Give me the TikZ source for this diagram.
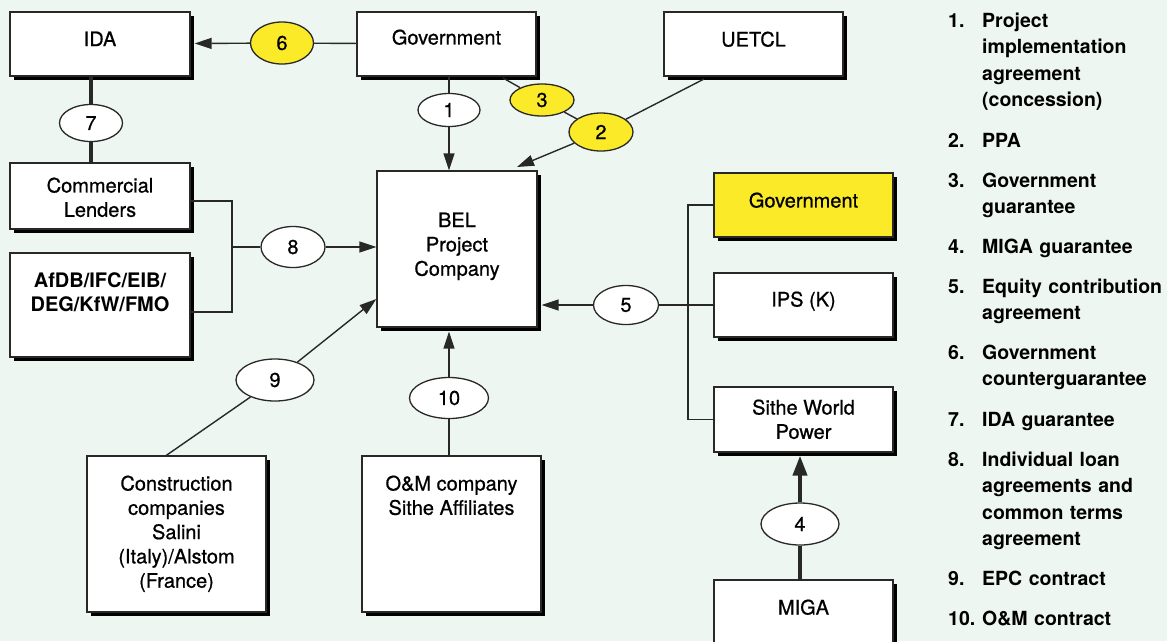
\documentclass[tikz,border=0pt]{standalone}
\usepackage{fontspec}
\setmainfont{TeX Gyre Heros}
\newfontfamily\medfont{TeX Gyre Heros}[BoldFont={TeX Gyre Heros}, BoldFeatures={FakeBold=0.7}]
\usetikzlibrary{shapes.geometric, shadows, arrows.meta, calc}
\definecolor{bgmint}{RGB}{238,246,241}
\definecolor{boxyellow}{RGB}{250,234,40}
\definecolor{edgegray}{RGB}{40,40,40}

\begin{document}
\begin{tikzpicture}[x=1pt, y=-1pt,
    box/.style={draw=edgegray, line width=1.3pt, fill=white, inner sep=0pt,
      drop shadow={shadow xshift=4pt, shadow yshift=-4pt, fill=black, opacity=1}},
    boxtext/.style={anchor=north, inner sep=0pt, yshift=-#1, align=center,
      font=\medfont\bfseries\fontsize{20}{24.3}\selectfont},
    boxtext/.default=19pt,
    oval/.style={ellipse, draw=edgegray, line width=1.3pt, fill=white, inner sep=0pt,
      font=\medfont\bfseries\fontsize{20}{24}\selectfont},
    link/.style={draw=edgegray, line width=1.4pt},
    thicklink/.style={draw=edgegray, line width=4pt},
    arr/.style={-{Triangle[length=17pt, width=11pt]}},
    thickarr/.style={-{Triangle[length=20pt, width=14pt]}},
    legnum/.style={anchor=base west, inner sep=0pt, font=\bfseries\fontsize{19.5}{26.5}\selectfont},
    legtext/.style={anchor=base west, inner sep=0pt, text width=185pt, align=left,
      font=\bfseries\fontsize{19.5}{26.5}\selectfont}]
  \useasboundingbox (0,0) rectangle (1167,641);
  \fill[bgmint] (0,0) rectangle (1167,641);
  \clip (0,0) rectangle (1167,641);

  % boxes
  \node[box, minimum width=180, minimum height=64, label={[boxtext=20pt]north:IDA}] (ida) at (100,44) {};
  \node[box, minimum width=179, minimum height=64, label={[boxtext=18pt]north:Government}] (gov) at (446.5,44) {};
  \node[box, minimum width=179, minimum height=64, label={[boxtext=20pt]north:UETCL}] (uetcl) at (753.5,44) {};
  \node[box, minimum width=180, minimum height=66, label={[boxtext=15pt]north:Commercial\\Lenders}] (cl) at (100,196) {};
  \node[box, minimum width=180, minimum height=104,
    label={[boxtext=20pt, font=\bfseries\fontsize{20}{24.3}\selectfont]north:AfDB/IFC/EIB/\\DEG/KfW/FMO}] (afdb) at (100,305) {};
  \node[box, minimum width=160, minimum height=156, label={[boxtext=42pt]north:BEL\\Project\\Company}] (bel) at (457,249) {};
  \node[box, fill=boxyellow, minimum width=179, minimum height=64, label={[boxtext=20pt]north:Government}] (govy) at (803.5,205) {};
  \node[box, minimum width=179, minimum height=64, label={[boxtext=19pt]north:IPS (K)}] (ips) at (803.5,305) {};
  \node[box, minimum width=179, minimum height=65, label={[boxtext=13pt]north:Sithe World\\Power}] (sithe) at (803.5,419.5) {};
  \node[box, minimum width=179, minimum height=100, label={[boxtext=20pt]north:MIGA}] (miga) at (803.5,630) {};
  \node[box, minimum width=179, minimum height=156,
    label={[boxtext=20pt]north:Construction\\companies\\Salini\\(Italy)/Alstom\\(France)}] (cons) at (176.5,534) {};
  \node[box, minimum width=179, minimum height=156, label={[boxtext=20pt]north:O\&M company\\Sithe Affiliates}] (om) at (451.5,534) {};

  % numbered agreements
  \node[oval, minimum width=62, minimum height=33] (e1) at (449,110) {1};
  \node[oval, fill=boxyellow, minimum width=64, minimum height=38] (e2) at (601,132) {2};
  \node[oval, fill=boxyellow, minimum width=64, minimum height=32] (e3) at (542,100) {3};
  \node[oval, minimum width=78, minimum height=42] (e4) at (800,524) {4};
  \node[oval, minimum width=65, minimum height=39] (e5) at (626,305) {5};
  \node[oval, fill=boxyellow, minimum width=63, minimum height=42] (e6) at (282,43) {6};
  \node[oval, minimum width=63, minimum height=37] (e7) at (91,123) {7};
  \node[oval, minimum width=64, minimum height=41] (e8) at (293,247) {8};
  \node[oval, minimum width=78, minimum height=42] (e9) at (275,380) {9};
  \node[oval, minimum width=79, minimum height=41] (e10) at (449,398) {10};

  \coordinate (g3) at (503,78);
  \coordinate (u2) at (704,79);
  \coordinate (b2) at (517,167);
  \coordinate (j8) at (232,247);
  \coordinate (bus) at (688,305);
  \coordinate (c9) at ($(cons.north west)+(80,0)$);
  \coordinate (b9) at ($(bel.west)+(0,50)$);

  \draw[link] (gov) -- (e6);
  \draw[link, arr, shorten >=4pt] (e6) -- (ida);
  \draw[thicklink] (ida.south -| e7) -- (e7) -- (e7 |- cl.north);
  \draw[link] (e1 |- gov.south) -- (e1);
  \draw[link, arr] (e1) -- (e1 |- bel.north);
  \draw[link] (g3) -- (e3) -- (e2);
  \draw[link] (u2) -- (e2);
  \draw[link, arr] (e2) -- (b2);
  \draw[link] ([yshift=-5pt]cl.east) -| (j8) |- ([yshift=-7pt]afdb.east);
  \draw[link] (j8) -- (e8);
  \draw[link, arr] (e8) -- (bel.west |- e8);
  \draw[link, arr, shorten >=4pt] (e5) -- (bel.east |- e5);
  \draw[link] (e5) -- (ips.west);
  \draw[link] (govy.west) -| (bus) |- (sithe.west);
  \draw[thicklink] (e4 |- miga.north) -- (e4);
  \draw[thicklink, thickarr, shorten >=3pt] (e4) -- (e4 |- sithe.south);
  \draw[link] (c9) -- (e9);
  \draw[link, arr] (e9) -- (b9);
  \draw[link] (e10 |- om.north) -- (e10);
  \draw[link, arr, shorten >=4pt] (e10) -- (e10 |- bel.south);

  % legend
  \foreach \n/\txt/\y in {1/{Project\\implementation\\agreement\\(concession)}/27,
      2/PPA/147, 3/{Government\\guarantee}/187, 4/MIGA guarantee/253,
      5/{Equity contribution\\agreement}/293, 6/{Government\\counterguarantee}/359,
      7/IDA guarantee/426, 8/{Individual loan\\agreements and\\common terms\\agreement}/466,
      9/EPC contract/585, 10/O\&M contract/625} {
    \node[legnum] (num\n) at (948,\y) {\n.};
    \node[legtext] (item\n) at (982,\y) {\txt};
  }
\end{tikzpicture}
\end{document}
